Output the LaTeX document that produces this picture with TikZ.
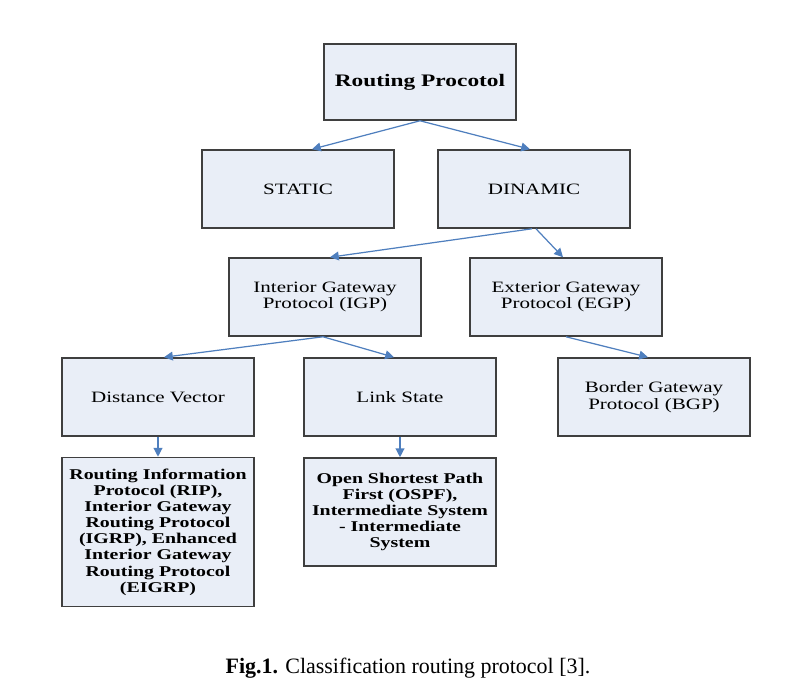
\documentclass[tikz,border=0pt]{standalone}
\usepackage{fontspec}
\setmainfont{Liberation Serif}
\newfontfamily\boxfont[FakeStretch=1.33]{Liberation Serif}
\usetikzlibrary{arrows.meta,calc}

\definecolor{boxfill}{HTML}{E9EEF7}
\definecolor{boxline}{HTML}{3F3F3F}
\definecolor{arrowblue}{HTML}{4F7FBE}

\tikzset{
  proto/.style = {draw = boxline, line width = 0.9pt, fill = boxfill, shape = rectangle,
    minimum width = 3.84cm, minimum height = 1.56cm, inner sep = 0pt, align = center,
    font = \boxfont\fontsize{9}{9.5}\selectfont},
  leafbox/.style = {proto, font = \boxfont\bfseries\fontsize{8.5}{9.2}\selectfont},
  link/.style = {draw = arrowblue, line width = 0.7pt, -{Triangle[length = 5pt, width = 5pt]}}
}

\begin{document}
\begin{tikzpicture}[x = 0.02cm, y = -0.02cm]
\useasboundingbox (0,0) rectangle (795,695);
% boxes
\node[proto, minimum height = 1.52cm, font = \boxfont\bfseries\fontsize{10}{12}\selectfont] (root) at (420,82) {Routing Procotol};
\node[proto] (static) at (298,189) {STATIC};
\node[proto] (dinamic) at (534,189) {DINAMIC};
\node[proto] (igp) at (325,297) {Interior Gateway\\Protocol (IGP)};
\node[proto] (egp) at (566,297) {Exterior Gateway\\Protocol (EGP)};
\node[proto] (dv) at (158,397) {Distance Vector};
\node[proto] (ls) at (400,397) {Link State};
\node[proto] (bgp) at (654,397) {Border Gateway\\Protocol (BGP)};
\node[leafbox, minimum height = 2.98cm] (rip) at (158,532) {Routing Information\\Protocol (RIP),\\Interior Gateway\\Routing Protocol\\(IGRP), Enhanced\\Interior Gateway\\Routing Protocol\\(EIGRP)};
\node[leafbox, minimum height = 2.16cm] (ospf) at (400,512) {Open Shortest Path\\First (OSPF),\\Intermediate System\\- Intermediate\\System};
% caption
\node[font = \fontsize{12.5}{15}\selectfont] (caption) at (408,668) {\textbf{Fig.1.} Classification routing protocol [3].};
% arrows
\draw[link] (root.south) -- ($(static.north)+(14,0)$);
\draw[link] (root.south) -- ($(dinamic.north)+(-4,0)$);
\draw[link] ($(dinamic.south)+(-2,0)$) -- ($(igp.north)+(5,0)$);
\draw[link] ($(dinamic.south)+(2,0)$) -- ($(egp.north)+(-3,0)$);
\draw[link] ($(igp.south)+(-2,0)$) -- ($(dv.north)+(6,0)$);
\draw[link] ($(igp.south)+(-2,0)$) -- ($(ls.north)+(-6,0)$);
\draw[link] (egp.south) -- ($(bgp.north)+(-6,0)$);
\draw[link] (dv.south) -- (rip.north);
\draw[link] (ls.south) -- (ospf.north);
\end{tikzpicture}
\end{document}
